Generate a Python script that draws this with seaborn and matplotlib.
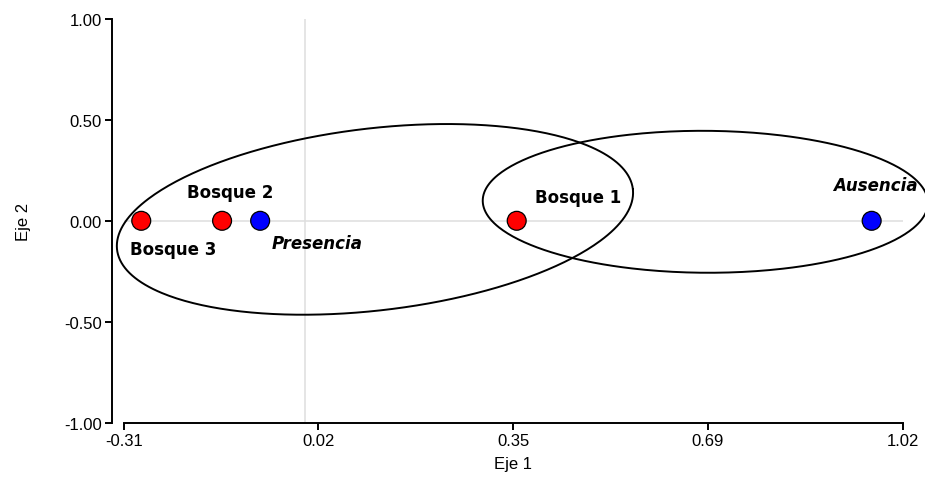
import numpy as np
import pandas as pd
import matplotlib
matplotlib.use("Agg")
import matplotlib.pyplot as plt
import seaborn as sns

# Ordination scores (Eje 1, Eje 2) for each level
labels = ["Bosque 3", "Bosque 2", "Presencia", "Bosque 1", "Ausencia"]
eje1 = [-0.280, -0.142, -0.077, 0.361, 0.967]
eje2 = [0.0, 0.0, 0.0, 0.0, 0.0]
grupo = ["Bosque", "Bosque", "Especie", "Bosque", "Especie"]

# Ellipses: centre plus semi-axis vectors, in axis units
ell_cx = [0.119, 0.683]
ell_cy = [0.007, 0.094]
ell_major = [(0.4403, 0.1499), (0.380, -0.006)]
ell_minor = [(-0.0180, 0.4471), (0.0006, 0.351)]

x_min, x_max = -0.31, 1.02
y_ticks = [-1.00, -0.50, 0.00, 0.50, 1.00]
x_tick_labels = ["-0.31", "0.02", "0.35", "0.69", "1.02"]

sns.set_theme(style="ticks")
plt.rcParams["font.family"] = ["Liberation Sans", "DejaVu Sans"]
plt.rcParams["text.color"] = "black"
plt.rcParams["axes.labelcolor"] = "black"
plt.rcParams["xtick.color"] = "black"
plt.rcParams["ytick.color"] = "black"

df = pd.DataFrame({"Eje 1": eje1, "Eje 2": eje2, "grupo": grupo, "label": labels})

fig = plt.figure(figsize=(9.25, 4.85), dpi=100)
ax = fig.add_axes([0.1337, 0.1258, 0.8422, 0.8338])

ax.set_xlim(x_min, x_max)
ax.set_ylim(-1.0, 1.0)

# reference lines through the origin
ax.axhline(0, color="#dedede", lw=1.1, zorder=1)
ax.axvline(0, color="#dedede", lw=1.1, zorder=1)

# ellipses
t = np.linspace(0, 2 * np.pi, 400)
for cx, cy, (ax_, ay_), (bx_, by_) in zip(ell_cx, ell_cy, ell_major, ell_minor):
    ex = cx + ax_ * np.cos(t) + bx_ * np.sin(t)
    ey = cy + ay_ * np.cos(t) + by_ * np.sin(t)
    ax.plot(ex, ey, color="black", lw=1.4, zorder=2, clip_on=False)

sns.scatterplot(data=df, x="Eje 1", y="Eje 2", hue="grupo",
                palette={"Bosque": "#ff0000", "Especie": "#0000ff"},
                s=185, edgecolor="black", linewidth=0.9, legend=False,
                zorder=3, ax=ax, clip_on=False)

# point labels: offsets in points, style per label
offsets = [(23, -20), (5.5, 20.5), (41, -16), (44, 17), (3, 25.5)]
styles = ["normal", "normal", "italic", "normal", "italic"]
for lab, x, y, off, st in zip(labels, eje1, eje2, offsets, styles):
    ax.annotate(lab, (x, y), xytext=off, textcoords="offset points",
                ha="center", va="center", fontsize=12, fontweight="bold",
                fontstyle=st, family=["DejaVu Sans"], color="black", zorder=4)

ax.set_xticks(np.linspace(x_min, x_max, len(x_tick_labels)))
ax.set_xticklabels(x_tick_labels)
ax.set_yticks(y_ticks)
ax.set_yticklabels([f"{v:.2f}" for v in y_ticks])

for side in ["top", "right"]:
    ax.spines[side].set_visible(False)
for side in ["left", "bottom"]:
    ax.spines[side].set_linewidth(1.4)
    ax.spines[side].set_color("black")
ax.spines["left"].set_position(("outward", 8.6))

ax.tick_params(axis="both", length=5, width=1.4, color="black",
               labelsize=12, labelcolor="black", pad=2)

ax.set_xlabel("Eje 1", fontsize=12, labelpad=6, color="black")
ax.set_ylabel("Eje 2", fontsize=12, labelpad=24, color="black")

fig.savefig("out.png", dpi=100)
